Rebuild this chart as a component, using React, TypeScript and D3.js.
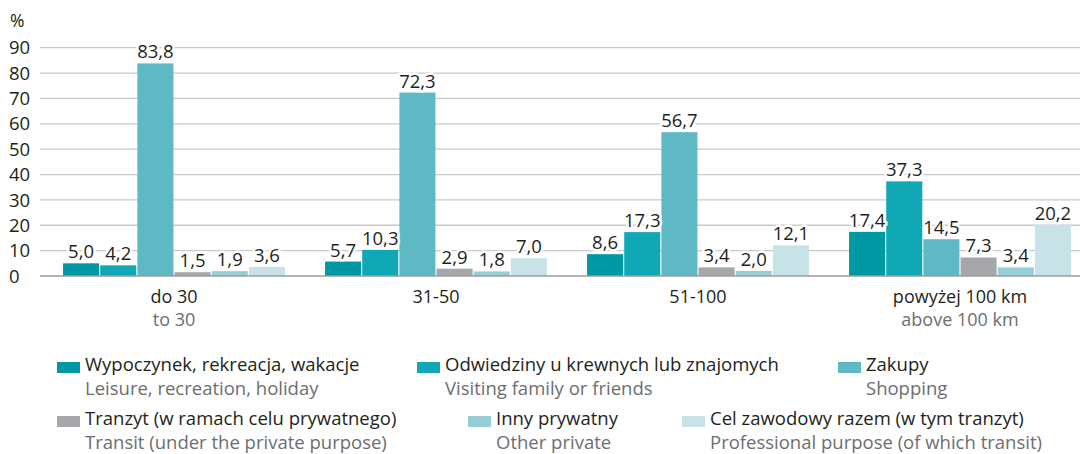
import React from "react";
import * as d3 from "d3";

const categories = ["do 30", "31-50", "51-100", "powyżej 100 km"];
const categoriesEn = ["to 30", "", "", "above 100 km"];
const seriesNames = [
  "Wypoczynek, rekreacja, wakacje",
  "Odwiedziny u krewnych lub znajomych",
  "Zakupy",
  "Tranzyt (w ramach celu prywatnego)",
  "Inny prywatny",
  "Cel zawodowy razem (w tym tranzyt)",
];
const seriesNamesEn = [
  "Leisure, recreation, holiday",
  "Visiting family or friends",
  "Shopping",
  "Transit (under the private purpose)",
  "Other private",
  "Professional purpose (of which transit)",
];
const leisure = [5.0, 5.7, 8.6, 17.4];
const visiting = [4.2, 10.3, 17.3, 37.3];
const shopping = [83.8, 72.3, 56.7, 14.5];
const transit = [1.5, 2.9, 3.4, 7.3];
const otherPrivate = [1.9, 1.8, 2.0, 3.4];
const professional = [3.6, 7.0, 12.1, 20.2];
const yTicks = [0, 10, 20, 30, 40, 50, 60, 70, 80, 90];
const colors = ["#0099a3", "#10a8b4", "#5fb9c4", "#a6a7ab", "#96ced6", "#c8e3e8"];

const series = [leisure, visiting, shopping, transit, otherPrivate, professional];

const W = 1080;
const H = 454;
const FONT = "'Open Sans', 'Noto Sans', sans-serif";
const DARK = "#231f20";
const GREY = "#6d6e71";
const FS = 18.5;

export default function App() {
  const y = d3.scaleLinear().domain([0, 90]).range([276, 47.7]);
  const x0 = d3
    .scaleBand<string>()
    .domain(categories)
    .range([43, 1091])
    .paddingInner(0.153)
    .paddingOuter(0.0765);
  const x1 = d3
    .scaleBand<number>()
    .domain(d3.range(series.length))
    .range([0, x0.bandwidth()])
    .paddingInner(0.03);
  const fmt = (v: number) => v.toFixed(1).replace(".", ",");

  const legendPos = [
    { x: 57, row: 0 },
    { x: 417, row: 0 },
    { x: 838, row: 0 },
    { x: 57, row: 1 },
    { x: 468, row: 1 },
    { x: 682, row: 1 },
  ];

  return (
    <svg
      width={W}
      height={H}
      style={{ position: "absolute", left: 0, top: 0, fontFamily: FONT }}
    >
      <rect width={W} height={H} fill="#fff" />
      {yTicks.map((t) => (
        <g key={t}>
          {t > 0 && (
            <line x1={40} x2={1080} y1={y(t)} y2={y(t)} stroke="#c9c9c9" strokeWidth={1.3} />
          )}
          <text x={9} y={y(t)} dy="0.36em" fontSize={FS} fill={DARK}>
            {t}
          </text>
        </g>
      ))}
      <text x={10} y={21} dy="0.36em" fontSize={17.5} fill={DARK}>
        %
      </text>
      {categories.map((c, ci) => (
        <g key={c} transform={`translate(${x0(c)},0)`}>
          {series.map((s, si) => (
            <rect
              key={si}
              x={x1(si)}
              y={y(s[ci])}
              width={x1.bandwidth()}
              height={y(0) - y(s[ci])}
              fill={colors[si]}
            />
          ))}
          {series.map((s, si) => (
            <text
              key={"l" + si}
              x={(x1(si) as number) + x1.bandwidth() / 2}
              y={y(s[ci]) - 5}
              textAnchor="middle"
              fontSize={FS}
              fill={DARK}
              stroke="#fff"
              strokeWidth={5}
              paintOrder="stroke"
              strokeLinejoin="round"
            >
              {fmt(s[ci])}
            </text>
          ))}
          <text x={x0.bandwidth() / 2} y={303} textAnchor="middle" fontSize={18} fill={DARK}>
            {c}
          </text>
          {categoriesEn[ci] && (
            <text x={x0.bandwidth() / 2} y={326} textAnchor="middle" fontSize={18} fill={GREY}>
              {categoriesEn[ci]}
            </text>
          )}
        </g>
      ))}
      <line x1={40} x2={1080} y1={y(0)} y2={y(0)} stroke="#9d9d9d" strokeWidth={1.6} />
      {seriesNames.map((n, i) => {
        const p = legendPos[i];
        const by = p.row === 0 ? 371 : 425;
        return (
          <g key={n}>
            <rect x={p.x} y={by - 9} width={23} height={11} fill={colors[i]} />
            <text x={p.x + 28} y={by} fontSize={FS} fill={DARK}>
              {n}
            </text>
            <text x={p.x + 28} y={by + 24} fontSize={FS} fill={GREY}>
              {seriesNamesEn[i]}
            </text>
          </g>
        );
      })}
    </svg>
  );
}
